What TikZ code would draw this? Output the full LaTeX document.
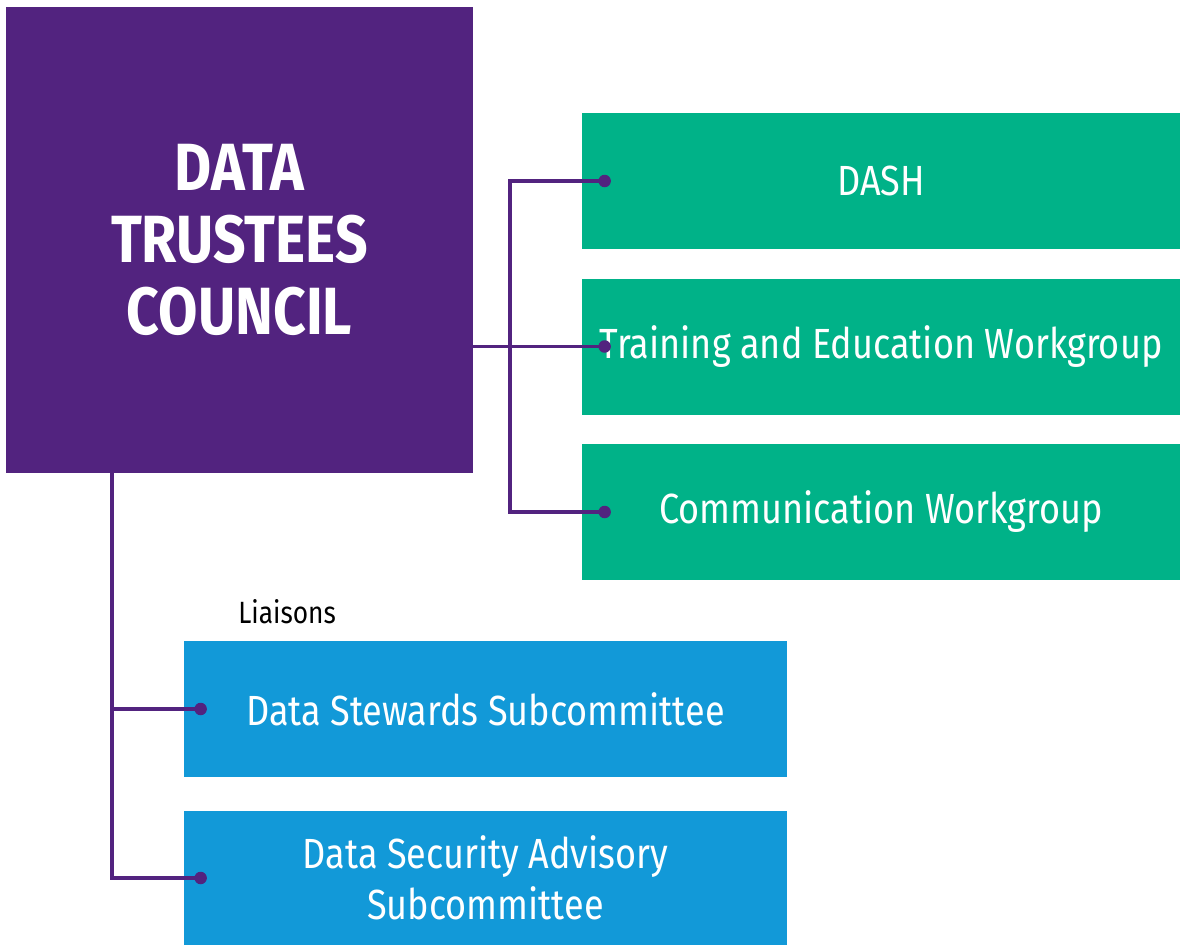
\documentclass[tikz,border=0pt]{standalone}
\usepackage{fontspec}
\setmainfont{Fira Sans}[FakeStretch=0.855]
\definecolor{trusteepurple}{RGB}{82, 35, 127}
\definecolor{workgreen}{RGB}{0, 178, 136}
\definecolor{subblue}{RGB}{18, 153, 216}
\usetikzlibrary{positioning, calc}

\tikzset{
  council/.style={fill=trusteepurple, text=white, minimum width=9.34cm, minimum height=9.32cm,
    align=center, font=\fontsize{38}{41}\selectfont\bfseries, inner sep=0pt},
  workbox/.style={fill=workgreen, text=white, minimum width=11.96cm, minimum height=2.72cm,
    align=center, font=\fontsize{24}{29}\selectfont, inner sep=0pt},
  subbox/.style={fill=subblue, text=white, minimum width=12.06cm, minimum height=2.72cm,
    align=center, font=\fontsize{24}{29}\selectfont, inner sep=0pt},
  link/.style={draw=trusteepurple, line width=1.9pt},
  tip/.style={circle, fill=trusteepurple, inner sep=0pt, minimum size=0.25cm}
}

\begin{document}
\begin{tikzpicture}
  \useasboundingbox (0,0) rectangle (23.6,-18.9);

  % council and the groups under it
  \node[council] (council) at (4.79,-4.8) {DATA\\TRUSTEES\\COUNCIL};
  \node[workbox] (dash) at (17.62,-3.62) {DASH};
  \node[workbox] (train) at (17.62,-6.93) {Training and Education Workgroup};
  \node[workbox] (comm) at (17.62,-10.24) {Communication Workgroup};
  \node[subbox] (stewards) at (9.71,-14.18) {Data Stewards Subcommittee};
  \node[subbox, minimum height=2.68cm] (security) at (9.71,-17.56) {Data Security Advisory\\Subcommittee};
  \node[font=\fontsize{17.5}{21}\selectfont, anchor=west, inner sep=0pt] (liaisons) at (4.76,-12.24) {Liaisons};

  % end dots of the connectors
  \node[tip] (dashdot) at ($(dash.west)+(0.46,0)$) {};
  \node[tip] (traindot) at ($(train.west)+(0.46,0)$) {};
  \node[tip] (commdot) at ($(comm.west)+(0.46,0)$) {};
  \node[tip] (stewardsdot) at ($(stewards.west)+(0.34,0)$) {};
  \node[tip] (securitydot) at ($(security.west)+(0.34,0)$) {};

  % connectors to the workgroups
  \coordinate (wbus) at (10.2,0);
  \draw[link] (council.east |- traindot) -- (traindot.center);
  \draw[link] (dashdot.center) -- (wbus |- dashdot) -- (wbus |- commdot) -- (commdot.center);

  % connectors to the subcommittees
  \coordinate (sbus) at (2.24,0);
  \draw[link] (sbus |- council.south) -- (sbus |- securitydot) -- (securitydot.center);
  \draw[link] (sbus |- stewardsdot) -- (stewardsdot.center);
\end{tikzpicture}
\end{document}
